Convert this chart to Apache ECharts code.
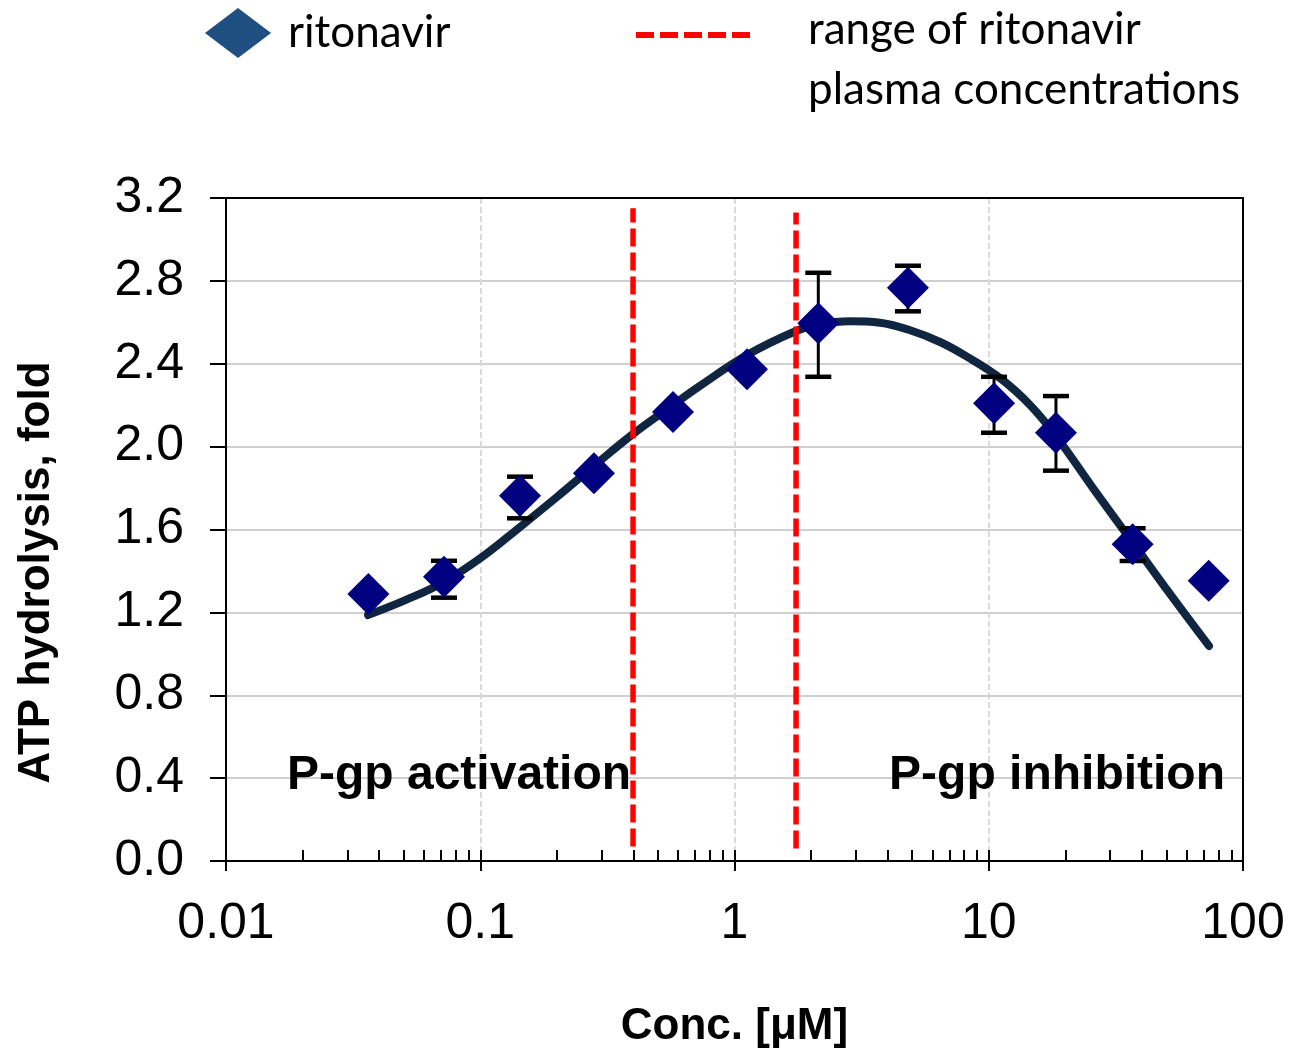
<!DOCTYPE html>
<html><head><meta charset="utf-8">
<script src="https://cdn.jsdelivr.net/npm/echarts@6/dist/echarts.min.js"></script>
<style>html,body{margin:0;padding:0;background:#fff}#c{width:1291px;height:1050px}</style>
</head><body><div id="c"></div>
<script>
// ---- data ----
const concentrations = [0.0363, 0.0720, 0.1433, 0.280, 0.573, 1.12, 2.136, 4.81, 10.49, 18.38, 36.8, 73.3];
const atpFold       = [1.289, 1.372, 1.763, 1.871, 2.167, 2.373, 2.595, 2.767, 2.209, 2.067, 1.529, 1.353];
// error bars: concentration, low, high
const errConc = [0.0720, 0.1433, 2.136, 4.81, 10.49, 18.38, 36.8];
const errLow  = [1.271, 1.654, 2.337, 2.653, 2.067, 1.884, 1.448];
const errHigh = [1.449, 1.855, 2.839, 2.873, 2.337, 2.244, 1.606];
// fitted curve
const fitConc = [0.0362, 0.0510, 0.0720, 0.1016, 0.1433, 0.2003, 0.2802, 0.3988, 0.5731, 0.7315, 1.120, 1.745, 2.130, 2.846, 3.736, 4.813, 6.432, 8.141, 11.07, 14.53, 18.39, 25.70, 36.93, 51.63, 73.48];
const fitFold = [1.187, 1.260, 1.347, 1.467, 1.612, 1.757, 1.907, 2.061, 2.201, 2.293, 2.442, 2.558, 2.589, 2.605, 2.598, 2.565, 2.505, 2.437, 2.331, 2.201, 2.051, 1.800, 1.535, 1.289, 1.038];
// plasma concentration range lines
const plasmaLow = 0.399, plasmaHigh = 1.746;
const plasmaLowSpan = [0.07, 3.15];
const plasmaHighSpan = [0.06, 3.13];
const yTicks = [0, 0.4, 0.8, 1.2, 1.6, 2.0, 2.4, 2.8, 3.2];
const seriesName = 'ritonavir';
const rangeName = 'range of ritonavir\nplasma concentrations';
const regionLabels = ['P-gp activation', 'P-gp inhibition'];

const AR = 'Arial, "Liberation Sans", sans-serif';
const LEG = 'Lato, "Open Sans", sans-serif';
const chart = echarts.init(document.getElementById('c'), null, {renderer: 'canvas'});

const scatterData = concentrations.map((c, i) => [c, atpFold[i]]);
const errData = errConc.map((c, i) => [c, errLow[i], errHigh[i]]);
const fitData = fitConc.map((c, i) => [c, fitFold[i]]);

const option = {
  animation: false,
  backgroundColor: '#fff',
  grid: {left: 226, right: 48, top: 198, bottom: 189, outerBoundsMode: 'none', containLabel: false,
         show: true, borderColor: '#000', borderWidth: 2, backgroundColor: 'transparent', z: 3},
  legend: [
    {
      data: [{name: seriesName, icon: 'diamond', itemStyle: {color: '#1F4E80', opacity: 1}}],
      left: 205, top: 8, padding: 0, itemWidth: 66, itemHeight: 50,
      textStyle: {fontFamily: LEG, fontSize: 44, color: '#000', padding: [0, 0, 0, 12]}
    },
    {
      data: [{name: rangeName, itemStyle: {color: 'transparent', borderWidth: 0, opacity: 0}}],
      left: 633, top: -50, padding: 0, itemWidth: 115, itemHeight: 6,
      lineStyle: {color: '#FF0000', width: 6, type: [18, 6], opacity: 1},
      formatter: name => {
        const lines = name.split('\n');
        return '{s| }\n' + lines.map(l => '{a|' + l + '}').join('\n');
      },
      textStyle: {
        color: '#000', padding: [0, 0, 0, 52],
        rich: {
          s: {fontSize: 10, height: 50, lineHeight: 50},
          a: {fontFamily: LEG, fontSize: 44, lineHeight: 60, color: '#000'}
        }
      }
    }
  ],
  xAxis: [
    {
      type: 'log', logBase: 10, min: 0.01, max: 100, gridIndex: 0, position: 'bottom',
      axisLine: {onZero: false, lineStyle: {color: '#000', width: 2}},
      axisTick: {inside: false, length: 10, lineStyle: {color: '#000', width: 2}},
      axisLabel: {margin: 38, fontSize: 50, color: '#000', fontFamily: AR},
      splitLine: {show: true, showMinLine: false, showMaxLine: false, lineStyle: {color: '#D9D9D9', width: 2, type: [6, 3]}},
      name: 'Conc. [μM]', nameLocation: 'middle', nameGap: 144,
      nameTextStyle: {fontFamily: AR, fontWeight: 'bold', fontSize: 44, color: '#000'}
    },
    {
      type: 'log', logBase: 10, min: 0.01, max: 100, gridIndex: 0, position: 'bottom',
      axisLine: {show: false, onZero: false},
      axisTick: {show: true, inside: true, length: 11, lineStyle: {color: '#000', width: 2}},
      minorTick: {show: true, splitNumber: 9, length: 11, lineStyle: {color: '#000', width: 2}},
      axisLabel: {show: false},
      splitLine: {show: false}
    }
  ],
  yAxis: {
    type: 'value', min: yTicks[0], max: yTicks[yTicks.length - 1], interval: 0.4,
    axisLine: {lineStyle: {color: '#000', width: 2}},
    axisTick: {inside: false, length: 16, lineStyle: {color: '#000', width: 2}},
    axisLabel: {margin: 42, fontSize: 50, color: '#000', fontFamily: AR, formatter: v => v.toFixed(1)},
    splitLine: {show: true, showMinLine: false, showMaxLine: false, lineStyle: {color: '#D0D0D0', width: 2}},
    name: 'ATP hydrolysis, fold', nameLocation: 'middle', nameGap: 167,
    nameTextStyle: {fontFamily: AR, fontWeight: 'bold', fontSize: 44, color: '#000', padding: [0, 86, 0, 0]}
  },
  series: [
    {
      name: 'fit', type: 'line', data: fitData, smooth: 0.4,
      symbol: 'none', lineStyle: {color: '#10253F', width: 8, cap: 'round', join: 'round'}, z: 2, silent: true
    },
    {
      name: rangeName, type: 'line', data: [[plasmaLow, plasmaLowSpan[0]], [plasmaLow, plasmaLowSpan[1]]],
      symbol: 'none', showSymbol: false, lineStyle: {color: '#FF0000', width: 5.5, type: [18, 6]}, z: 3
    },
    {
      name: rangeName, type: 'line', data: [[plasmaHigh, plasmaHighSpan[0]], [plasmaHigh, plasmaHighSpan[1]]],
      symbol: 'none', showSymbol: false, lineStyle: {color: '#FF0000', width: 5.5, type: [18, 6]}, z: 3
    },
    {
      name: 'errors', type: 'custom', data: errData, encode: {x: 0, y: [1, 2]}, z: 4,
      renderItem: (params, api) => {
        const x = api.value(0);
        const lo = api.coord([x, api.value(1)]);
        const hi = api.coord([x, api.value(2)]);
        const hw = 13;
        const st = {stroke: '#000', lineWidth: 3};
        const cap = {stroke: '#000', lineWidth: 4.5};
        return {type: 'group', children: [
          {type: 'line', shape: {x1: lo[0], y1: lo[1], x2: hi[0], y2: hi[1]}, style: st},
          {type: 'line', shape: {x1: lo[0] - hw, y1: lo[1], x2: lo[0] + hw, y2: lo[1]}, style: cap},
          {type: 'line', shape: {x1: hi[0] - hw, y1: hi[1], x2: hi[0] + hw, y2: hi[1]}, style: cap}
        ]};
      }
    },
    {
      name: seriesName, type: 'scatter', data: scatterData, symbol: 'diamond', symbolSize: 42,
      itemStyle: {color: '#000080', opacity: 1}, z: 5
    }
  ],
  graphic: [
    {type: 'text', left: 287, top: 752, style: {text: regionLabels[0], font: 'bold 48px ' + AR, fill: '#000'}, z: 10},
    {type: 'text', right: 66, top: 752, style: {text: regionLabels[1], font: 'bold 48px ' + AR, fill: '#000'}, z: 10}
  ]
};
chart.setOption(option);
</script>
</body></html>
